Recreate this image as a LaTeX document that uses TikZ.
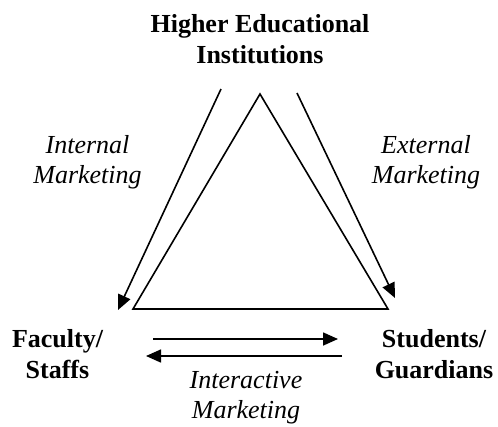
\documentclass[tikz,border=0pt]{standalone}
\usepackage{fontspec}
\setmainfont{Liberation Serif}
\usetikzlibrary{arrows.meta}
\begin{document}
\begin{tikzpicture}[x=1pt,y=-1pt,
  lbl/.style={inner sep=0pt,align=center,anchor=base,font=\fontsize{26}{31}\selectfont\bfseries},
  ilbl/.style={inner sep=0pt,align=center,anchor=base,font=\fontsize{26}{30}\selectfont\itshape},
  edge/.style={line width=1.6pt},
  arr/.style={line width=1.6pt,-{Triangle[length=15pt,width=13pt]}}]
\useasboundingbox (0,0) rectangle (498,426);
% labels (anchor = baseline of last line)
\node[lbl] (hei) at (260,63) {Higher Educational\\Institutions};
\node[lbl] (fac) at (57.5,378) {Faculty/\\Staffs};
\node[lbl] (stu) at (434,378) {Students/\\Guardians};
\node[ilbl] (int) at (87.5,183) {Internal\\Marketing};
\node[ilbl] (ext) at (426,183) {External\\Marketing};
\node[ilbl] (ia) at (246,418) {Interactive\\Marketing};
% triangle
\coordinate (apex) at (260,94);
\coordinate (bl) at (133,309);
\coordinate (br) at (388,309);
\draw[edge,line join=miter] (apex) -- (bl) -- (br) -- cycle;
% marketing arrows
\coordinate (ls) at (221,89);
\coordinate (le) at (118,310);
\coordinate (rs) at (297,93);
\coordinate (re) at (395,298);
\draw[arr] (ls) -- (le);
\draw[arr] (rs) -- (re);
\coordinate (t1) at (153,339);
\coordinate (t2) at (338,339);
\coordinate (b1) at (342,356);
\coordinate (b2) at (146,356);
\draw[arr] (t1) -- (t2);
\draw[arr] (b1) -- (b2);
\end{tikzpicture}
\end{document}
